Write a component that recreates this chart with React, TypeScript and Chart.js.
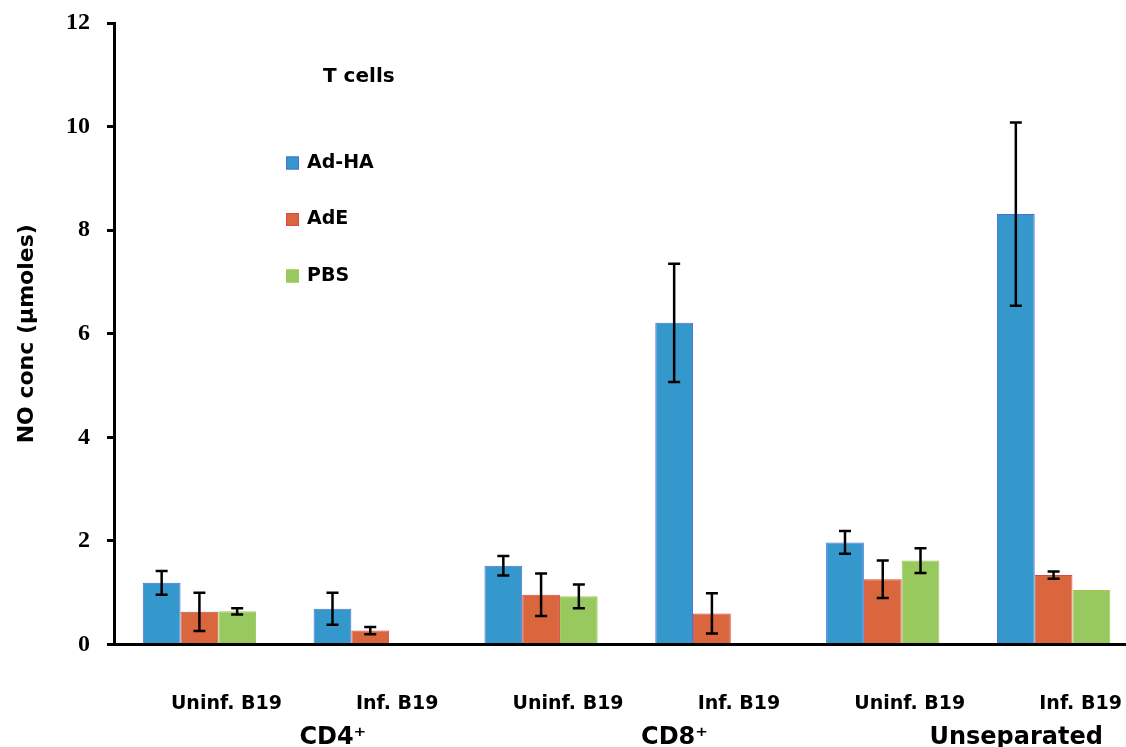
import React, { useEffect, useRef } from "react";
import { Chart, registerables } from "chart.js";

Chart.register(...registerables);

// ---- Data ----
const categories = ["Uninf. B19", "Inf. B19", "Uninf. B19", "Inf. B19", "Uninf. B19", "Inf. B19"];
const groupLabels = ["CD4\u207A", "CD8\u207A", "Unseparated"];
const seriesNames = ["Ad-HA", "AdE", "PBS"];
const legendTitle = "T cells";

const adHA = [1.19, 0.69, 1.52, 6.21, 1.97, 8.31];
const adHAErr = [0.23, 0.31, 0.19, 1.14, 0.22, 1.77];
const adE = [0.63, 0.27, 0.96, 0.6, 1.26, 1.34];
const adEErr = [0.37, 0.07, 0.41, 0.39, 0.36, 0.07];
const pbs = [0.64, null, 0.93, null, 1.62, 1.05];
const pbsErr = [0.06, 0, 0.23, 0, 0.24, 0];

const yTicks = [0, 2, 4, 6, 8, 10, 12];

const fillColors = ["#3598CD", "#D9663C", "#98C95E"];
const borderColors = ["#4F6AD2", "#D54A48", "#A3C85A"];

const errorBarPlugin = {
  id: "errorBars",
  afterDatasetsDraw(chart: any) {
    const ctx = chart.ctx;
    const yScale = chart.scales.y;
    chart.data.datasets.forEach((ds: any, i: number) => {
      const meta = chart.getDatasetMeta(i);
      const errs = ds.errors || [];
      meta.data.forEach((el: any, j: number) => {
        const v = ds.data[j];
        const e = errs[j];
        if (v == null || !e) return;
        const x = el.x;
        const top = yScale.getPixelForValue(v + e);
        const bot = yScale.getPixelForValue(v - e);
        ctx.save();
        ctx.strokeStyle = "#000";
        ctx.lineWidth = 2.5;
        ctx.beginPath();
        ctx.moveTo(x, top);
        ctx.lineTo(x, bot);
        ctx.moveTo(x - 6, top);
        ctx.lineTo(x + 6, top);
        ctx.moveTo(x - 6, bot);
        ctx.lineTo(x + 6, bot);
        ctx.stroke();
        ctx.restore();
      });
    });
  },
};

const insideLegendPlugin = {
  id: "insideLegend",
  afterDraw(chart: any) {
    const { ctx, chartArea } = chart;
    ctx.save();
    ctx.fillStyle = "#000";
    ctx.textAlign = "left";
    ctx.textBaseline = "middle";
    ctx.font = 'bold 20px "DejaVu Sans"';
    ctx.fillText(legendTitle, chartArea.left + 209, chartArea.top + 54);
    chart.data.datasets.forEach((ds: any, i: number) => {
      const cy = chartArea.top + 140 + i * 56.5;
      ctx.fillStyle = ds.backgroundColor;
      ctx.fillRect(chartArea.left + 172, cy - 6.5, 13, 13);
      ctx.strokeStyle = ds.borderColor;
      ctx.lineWidth = 1;
      ctx.strokeRect(chartArea.left + 172.5, cy - 6, 12, 12);
      ctx.fillStyle = "#000";
      ctx.font = 'bold 19px "DejaVu Sans"';
      ctx.fillText(ds.label, chartArea.left + 193, cy);
    });
    ctx.restore();
  },
};

export default function App() {
  const canvasRef = useRef<HTMLCanvasElement | null>(null);

  useEffect(() => {
    if (!canvasRef.current) return;
    const values = [adHA, adE, pbs];
    const errors = [adHAErr, adEErr, pbsErr];
    const chart = new Chart(canvasRef.current, {
      type: "bar",
      data: {
        labels: categories,
        datasets: seriesNames.map((name, i) => ({
          label: name,
          data: values[i],
          errors: errors[i],
          backgroundColor: fillColors[i],
          borderColor: borderColors[i],
          borderWidth: 1,
          barPercentage: 1,
          categoryPercentage: 0.663,
          xAxisID: "x",
          yAxisID: "y",
        })) as any,
      },
      options: {
        responsive: false,
        animation: false,
        layout: { padding: { top: 23, right: 1, bottom: 0, left: 0 } },
        plugins: {
          legend: { display: false },
          tooltip: { enabled: false },
        },
        scales: {
          x: {
            type: "category",
            position: "bottom",
            weight: 0,
            offset: true,
            grid: { display: false },
            border: { display: true, color: "#000", width: 3 },
            ticks: {
              color: "#000",
              padding: 40,
              labelOffset: 27,
              maxRotation: 0,
              autoSkip: false,
              font: { family: "DejaVu Sans", weight: "bold", size: 19 },
            },
            afterFit: (s: any) => {
              s.height = 66;
              s.paddingLeft = 0;
              s.paddingRight = 0;
            },
          },
          x2: {
            type: "category",
            labels: groupLabels,
            position: "bottom",
            weight: 1,
            offset: true,
            grid: { display: false },
            border: { display: false },
            ticks: {
              color: "#000",
              padding: 5,
              labelOffset: 48,
              maxRotation: 0,
              autoSkip: false,
              font: { family: "DejaVu Sans", weight: "bold", size: 24 },
            },
            afterFit: (s: any) => {
              s.height = 36.5;
              s.paddingLeft = 0;
              s.paddingRight = 0;
            },
          },
          y: {
            type: "linear",
            min: 0,
            max: 12,
            afterBuildTicks: (s: any) => {
              s.ticks = yTicks.map((v) => ({ value: v }));
            },
            grid: {
              display: true,
              drawOnChartArea: false,
              drawTicks: true,
              tickLength: 7,
              tickWidth: 3,
              tickColor: "#000",
              color: "#000",
              lineWidth: 3,
            },
            border: { display: true, color: "#000", width: 3 },
            ticks: {
              color: "#000",
              padding: 17,
              font: { family: "Liberation Serif", weight: "bold", size: 24 },
            },
            title: {
              display: true,
              text: "NO conc (\u00B5moles)",
              color: "#000",
              padding: { top: 14, bottom: 0 },
              font: { family: "DejaVu Sans", weight: "bold", size: 22 },
            },
            afterFit: (s: any) => {
              s.width = 114;
              s.paddingTop = 0;
              s.paddingBottom = 0;
            },
          },
        },
      },
      plugins: [errorBarPlugin, insideLegendPlugin],
    });
    return () => chart.destroy();
  }, []);

  return (
    <div
      style={{
        position: "fixed",
        left: 0,
        top: 0,
        width: 1126,
        height: 747,
        overflow: "hidden",
        background: "#fff",
      }}
    >
      <canvas ref={canvasRef} width={1140} height={747} style={{ display: "block" }} />
    </div>
  );
}
